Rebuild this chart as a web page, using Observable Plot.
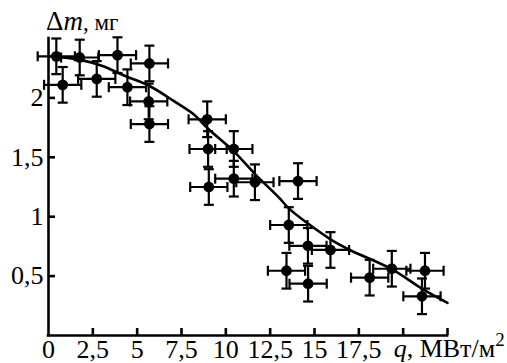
<!DOCTYPE html>
<html><head><meta charset="utf-8">
<script src="https://cdn.jsdelivr.net/npm/d3@7"></script>
<script src="https://cdn.jsdelivr.net/npm/@observablehq/plot@0.6"></script>
<style>body{margin:0;background:#fff} svg{display:block}</style>
</head><body><div id="chart"></div>
<script>
// Measured points: heat flux q (MW/m^2) and mass loss Δm (mg)
const qValues  = [0.44, 1.76, 3.89, 5.69, 0.8, 2.72, 4.45, 5.65, 5.69, 8.95, 9.0, 10.45, 9.04, 10.45, 11.64, 14.07, 13.55, 14.63, 15.9, 13.42, 14.64, 18.11, 19.36, 21.23, 21.06];
const dmValues = [2.35, 2.34, 2.36, 2.29, 2.11, 2.16, 2.09, 1.97, 1.78, 1.82, 1.57, 1.57, 1.25, 1.32, 1.29, 1.30, 0.93, 0.755, 0.72, 0.545, 0.436, 0.487, 0.562, 0.545, 0.33];
// error half-widths
const qErr = 1.05;
const dmErr = 0.15;
// fitted curve
const curveQ  = [0, 1.8, 3, 4.4, 5.7, 7.1, 8.2, 9.0, 10.45, 11.7, 13.0, 13.55, 14.65, 15.9, 17.0, 19.4, 21.1, 22.5];
const curveDm = [2.35, 2.32, 2.27, 2.18, 2.10, 1.97, 1.86, 1.74, 1.55, 1.35, 1.16, 1.07, 0.94, 0.81, 0.72, 0.555, 0.39, 0.275];
// ticks
const xTickMarks = [2.5, 5, 7.5, 10, 12.5, 15, 17.5, 20, 22.5];
const xTickLabels = [0, 2.5, 5, 7.5, 10, 12.5, 15, 17.5];
const yTickMarks = [0.5, 1, 1.5, 2];
const yTickLabels = [0.5, 1, 1.5, 2];
const yTitle = ["Δ", "m", ", мг"];
const xTitle = ["q", ", МВт/м", "2"];

const points = qValues.map((q, i) => ({q, dm: dmValues[i]}));
const curve = curveQ.map((q, i) => ({q, dm: curveDm[i]}));
const fmt = d => String(d).replace(".", ",");

const hCap = {draw(ctx, size){ const h = Math.sqrt(size / Math.PI); ctx.moveTo(-h, 0); ctx.lineTo(h, 0); }};
const vCap = {draw(ctx, size){ const h = Math.sqrt(size / Math.PI); ctx.moveTo(0, -h); ctx.lineTo(0, h); }};

const W = 507, H = 363, mL = 48, mR = 60, mT = 38, mB = 28;
const innerW = W - mL - mR, innerH = H - mT - mB;
const SERIF = "Liberation Serif";

const plot = Plot.plot({
  width: W, height: H,
  marginLeft: mL, marginRight: mR, marginTop: mT, marginBottom: mB,
  style: {fontSize: "26px", color: "#000", background: "#fff", overflow: "visible"},
  x: {domain: [0, 22.5]},
  y: {domain: [0, 2.5]},
  marks: [
    Plot.ruleX([0], {y1: 0, y2: 2.5, strokeWidth: 2.6, strokeLinecap: "square"}),
    Plot.ruleY([0], {x1: 0, x2: 22.5, strokeWidth: 2.6, strokeLinecap: "square"}),
    Plot.tickX(xTickMarks, {x: d => d, insetTop: innerH - 7, strokeWidth: 2.6}),
    Plot.tickY(yTickMarks, {y: d => d, insetRight: innerW - 7, strokeWidth: 2.6}),
    Plot.axisX(xTickLabels, {tickSize: 0, tickPadding: 4, tickFormat: fmt, label: null, fontSize: 26}),
    Plot.axisY(yTickLabels, {tickSize: 0, tickPadding: 5, tickFormat: fmt, label: null, fontSize: 26}),
    Plot.line(curve, {x: "q", y: "dm", curve: "catmull-rom", strokeWidth: 2.6}),
    Plot.ruleY(points, {y: "dm", x1: d => d.q - qErr, x2: d => d.q + qErr, strokeWidth: 2.2}),
    Plot.ruleX(points, {x: "q", y1: d => d.dm - dmErr, y2: d => d.dm + dmErr, strokeWidth: 2.2}),
    Plot.dot(points, {x: d => d.q - qErr, y: "dm", symbol: vCap, r: 5, stroke: "black", strokeWidth: 2.2}),
    Plot.dot(points, {x: d => d.q + qErr, y: "dm", symbol: vCap, r: 5, stroke: "black", strokeWidth: 2.2}),
    Plot.dot(points, {x: "q", y: d => d.dm - dmErr, symbol: hCap, r: 5, stroke: "black", strokeWidth: 2.2}),
    Plot.dot(points, {x: "q", y: d => d.dm + dmErr, symbol: hCap, r: 5, stroke: "black", strokeWidth: 2.2}),
    Plot.dot(points, {x: "q", y: "dm", r: 5.4, fill: "black", stroke: "none"})
  ]
});

const svg = d3.select(plot);
svg.attr("font-family", SERIF);
const xs = plot.scale("x"), ys = plot.scale("y");
const yt = svg.append("text").attr("x", xs.apply(0) - 2).attr("y", ys.apply(2.5) - 8)
  .attr("text-anchor", "start").attr("font-size", 27).attr("fill", "#000");
yt.append("tspan").text(yTitle[0]);
yt.append("tspan").attr("font-style", "italic").text(yTitle[1]);
yt.append("tspan").attr("font-size", 23).text(yTitle[2]);
const xt = svg.append("text").attr("x", xs.apply(20) - 9).attr("y", H - 6)
  .attr("text-anchor", "start").attr("font-size", 26).attr("fill", "#000");
xt.append("tspan").attr("font-style", "italic").text(xTitle[0]);
xt.append("tspan").text(xTitle[1]);
xt.append("tspan").attr("font-size", 19).attr("dy", -11).text(xTitle[2]);
svg.selectAll("text, tspan, g").attr("font-family", SERIF).style("font-family", SERIF);

document.getElementById("chart").appendChild(plot);
</script>
</body></html>
